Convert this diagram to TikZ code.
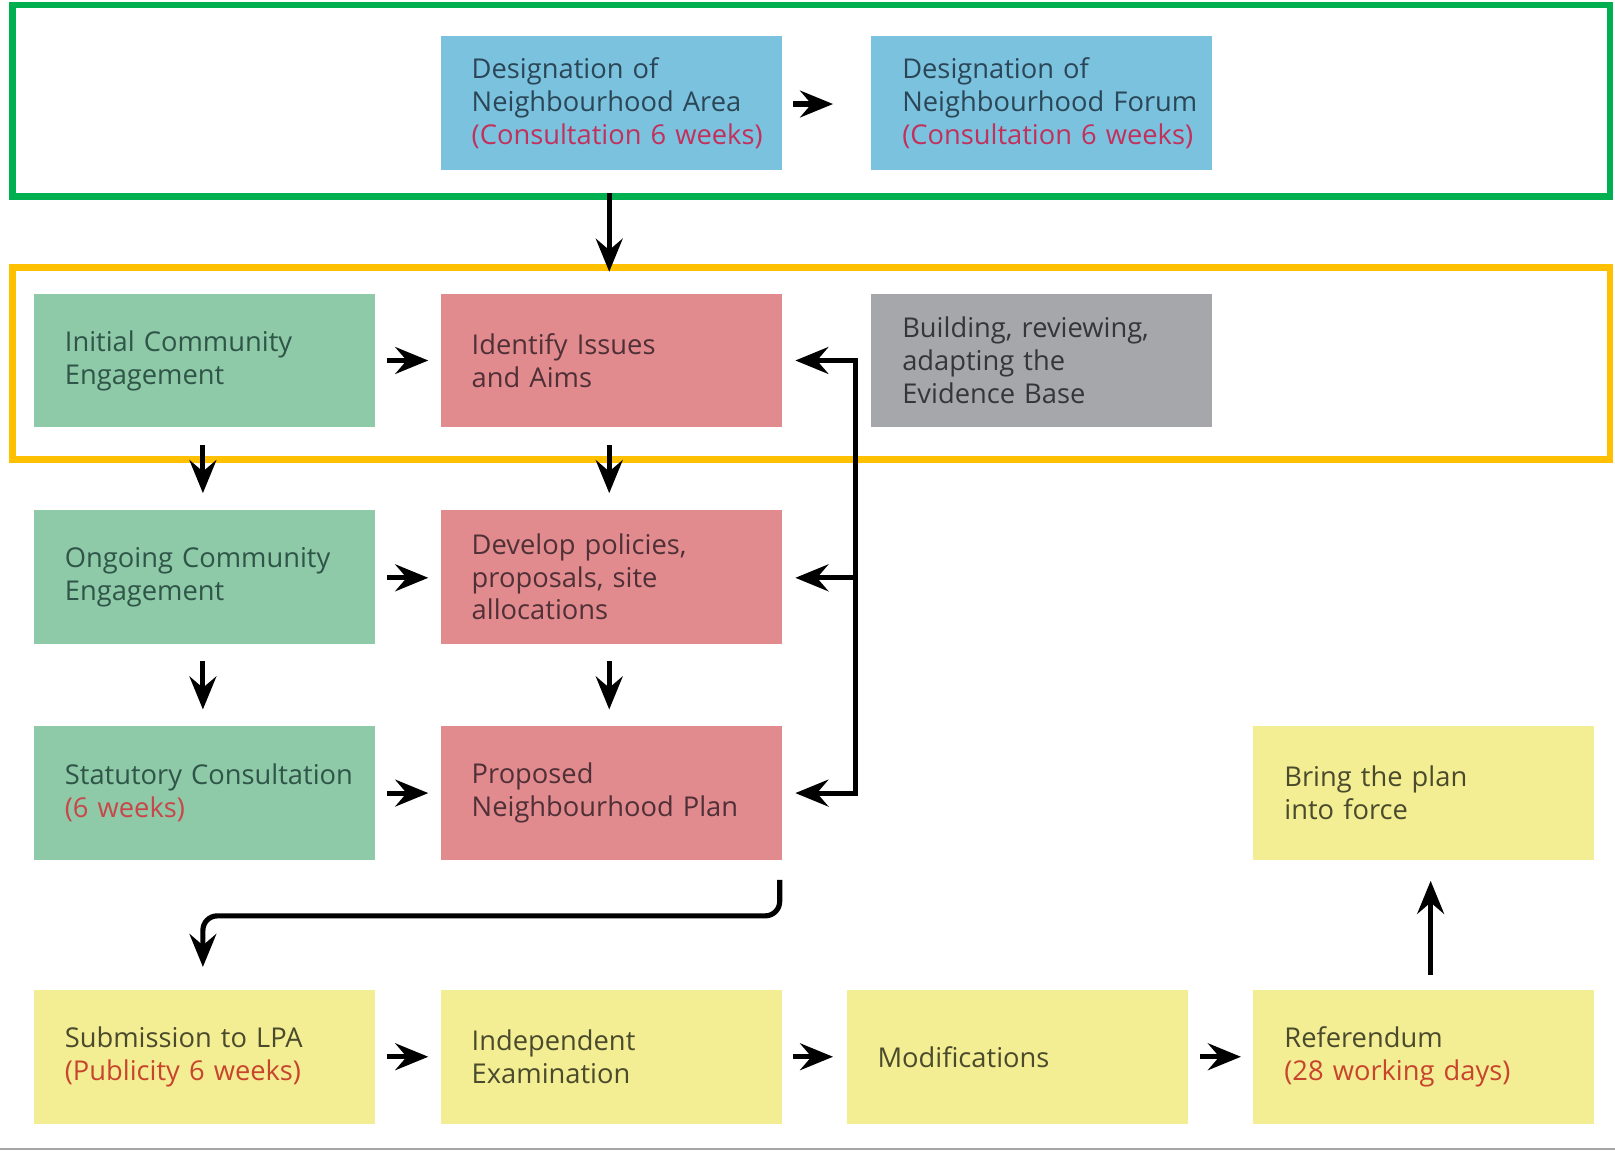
\documentclass[tikz,border=0pt]{standalone}
\usepackage{fontspec}
\setmainfont{Open Sans}
\usetikzlibrary{arrows.meta,calc}
\definecolor{bluefill}{HTML}{7BC2DF}
\definecolor{bluetext}{HTML}{2B4757}
\definecolor{bluered}{HTML}{C2305C}
\definecolor{greenfill}{HTML}{8EC9A8}
\definecolor{greentext}{HTML}{2F5548}
\definecolor{greenred}{HTML}{C8474A}
\definecolor{pinkfill}{HTML}{E28B8F}
\definecolor{pinktext}{HTML}{4E3036}
\definecolor{grayfill}{HTML}{A6A7AB}
\definecolor{graytext}{HTML}{353638}
\definecolor{yellowfill}{HTML}{F3ED93}
\definecolor{yellowtext}{HTML}{4A4A2C}
\definecolor{yellowred}{HTML}{C8452D}
\definecolor{framegreen}{HTML}{00B050}
\definecolor{frameorange}{HTML}{FFC000}
\tikzset{
  box/.style={rectangle, minimum width=331pt, minimum height=130pt,
    inner xsep=30pt, inner ysep=0pt, text width=271pt, align=left,
    font=\fontsize{26.5}{32}\selectfont},
  bluebox/.style={box, fill=bluefill, text=bluetext},
  greenbox/.style={box, fill=greenfill, text=greentext},
  pinkbox/.style={box, fill=pinkfill, text=pinktext},
  graybox/.style={box, fill=grayfill, text=graytext},
  yellowbox/.style={box, fill=yellowfill, text=yellowtext},
  arr/.style={line width=5pt, line join=miter, -{Stealth[length=32pt,width=26pt,inset=11pt]}},
  biarr/.style={line width=5pt, line join=miter, {Stealth[length=32pt,width=26pt,inset=11pt]}-{Stealth[length=32pt,width=26pt,inset=11pt]}},
  phaseframe/.style={line width=6.5pt}
}
\begin{document}
\begin{tikzpicture}[x=1pt,y=-1pt]
\fill[white] (0,0) rectangle (1568,1118);
\useasboundingbox (0,0) rectangle (1568,1118);

% frames
\draw[phaseframe, draw=framegreen] (12,5) rectangle (1563,191);
\draw[phaseframe, draw=frameorange] (12,260) rectangle (1563,446);

% row 1
\node[bluebox] (area) at (593.5,100) {\mbox{Designation of}\\\mbox{Neighbourhood Area}\\\mbox{\textcolor{bluered}{(Consultation 6 weeks)}}};
\node[bluebox] (forum) at (1011.5,100) {\mbox{Designation of}\\\mbox{Neighbourhood Forum}\\\mbox{\textcolor{bluered}{(Consultation 6 weeks)}}};

% row 2
\node[greenbox] (initial) at (198.5,350) {\mbox{Initial Community}\\\mbox{Engagement}};
\node[pinkbox] (issues) at (593.5,350) {\mbox{Identify Issues}\\\mbox{and Aims}};
\node[graybox] (evidence) at (1011.5,350) {\mbox{Building, reviewing,}\\\mbox{adapting the}\\\mbox{Evidence Base}};

% row 3
\node[greenbox] (ongoing) at (198.5,560) {\mbox{Ongoing Community}\\\mbox{Engagement}};
\node[pinkbox] (develop) at (593.5,560) {\mbox{Develop policies,}\\\mbox{proposals, site}\\\mbox{allocations}};

% row 4
\node[greenbox] (statutory) at (198.5,770) {\mbox{Statutory Consultation}\\\mbox{\textcolor{greenred}{(6 weeks)}}};
\node[pinkbox] (proposed) at (593.5,770) {\mbox{Proposed}\\\mbox{Neighbourhood Plan}};
\node[yellowbox] (force) at (1382.5,770) {\mbox{Bring the plan}\\\mbox{into force}};

% row 5
\node[yellowbox] (submit) at (198.5,1026) {\mbox{Submission to LPA}\\\mbox{\textcolor{yellowred}{(Publicity 6 weeks)}}};
\node[yellowbox] (exam) at (593.5,1026) {\mbox{Independent}\\\mbox{Examination}};
\node[yellowbox] (mods) at (987.5,1026) {\mbox{Modifications}};
\node[yellowbox] (refer) at (1382.5,1026) {\mbox{Referendum}\\\mbox{\textcolor{yellowred}{(28 working days)}}};

% horizontal arrows
\draw[arr] ($(area.east)+(11,1)$) -- ($(forum.west)+(-37,1)$);
\draw[arr] ($(initial.east)+(12,0)$) -- ($(issues.west)+(-12,0)$);
\draw[arr] ($(ongoing.east)+(12,1)$) -- ($(develop.west)+(-12,1)$);
\draw[arr] ($(statutory.east)+(12,0)$) -- ($(proposed.west)+(-12,0)$);
\draw[arr] ($(submit.east)+(12,0)$) -- ($(exam.west)+(-12,0)$);
\draw[arr] ($(exam.east)+(11,0)$) -- ($(mods.west)+(-13,0)$);
\draw[arr] ($(mods.east)+(12,0)$) -- ($(refer.west)+(-12,0)$);

% vertical arrows
\draw[arr] ($(area.south)+(-2,22)$) -- ($(issues.north)+(-2,-21)$);
\draw[arr] ($(initial.south)+(-1.5,17)$) -- ($(ongoing.north)+(-1.5,-16)$);
\draw[arr] ($(issues.south)+(-2,17)$) -- ($(develop.north)+(-2,-16)$);
\draw[arr] ($(ongoing.south)+(-1.5,17)$) -- ($(statutory.north)+(-1.5,-16)$);
\draw[arr] ($(develop.south)+(-2,17)$) -- ($(proposed.north)+(-2,-16)$);

% feedback loop
\coordinate (fb1) at ($(issues.east)+(71,0)$);
\coordinate (fb2) at ($(develop.east)+(71,1)$);
\coordinate (fb3) at ($(proposed.east)+(71,0)$);
\draw[biarr] ($(issues.east)+(13,0)$) -- (fb1) -- (fb3) -- ($(proposed.east)+(13,0)$);
\draw[arr] (fb2) -- ($(develop.east)+(13,1)$);

% proposed -> submission
\draw[arr, rounded corners=14pt] ($(proposed.south)+(163.5,19)$) -- ++(0,35) -| ($(submit.north)+(-1.5,-22)$);

% referendum -> force
\draw[arr] ($(refer.north)+(6.5,-14)$) -- ($(force.south)+(6.5,20)$);

% bottom rule
\draw[gray!70, line width=2pt] (0,1116) -- (1568,1116);
\end{tikzpicture}
\end{document}
